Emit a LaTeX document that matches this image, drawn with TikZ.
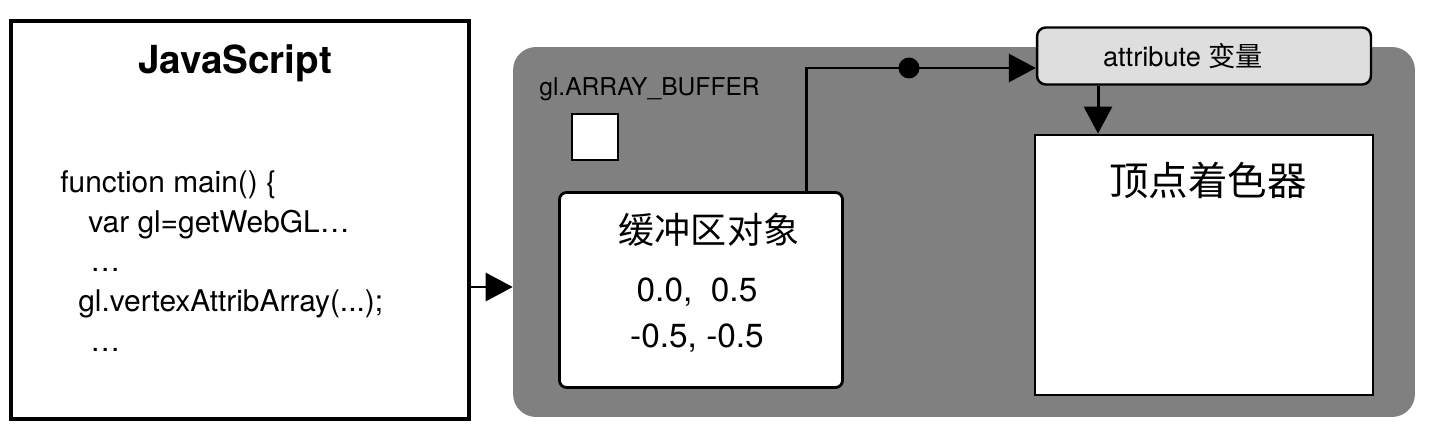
\documentclass[tikz,border=0pt]{standalone}
\usepackage{fontspec}
\setmainfont{TeX Gyre Heros}
\newfontfamily\cjk{Noto Sans CJK SC}
\usepackage{xcolor}
\usepackage{tikz}
\usetikzlibrary{positioning,arrows.meta}
\definecolor{gpugray}{RGB}{128,128,128}
\definecolor{attrgray}{RGB}{222,222,222}

\begin{document}
\begin{tikzpicture}[x=0.02cm,y=-0.02cm,
    jsbox/.style={rectangle,draw=black,fill=white,line width=2pt,minimum width=9.16cm,minimum height=7.96cm},
    gpubox/.style={rectangle,rounded corners=13pt,fill=gpugray,minimum width=18.04cm,minimum height=7.4cm},
    bufbox/.style={rectangle,rounded corners=4pt,draw=black,fill=white,line width=1.6pt,minimum width=5.66cm,minimum height=3.9cm},
    attrbox/.style={rectangle,rounded corners=5pt,draw=black,fill=attrgray,line width=1.4pt,minimum width=6.68cm,minimum height=1.14cm},
    shaderbox/.style={rectangle,draw=black,fill=white,line width=1.6pt,minimum width=6.76cm,minimum height=5.2cm},
    arr/.style={-{Triangle[length=5.4mm,width=5.6mm]},line width=1.7pt}
]
    \useasboundingbox (0,0) rectangle (1430,432);
    % JavaScript side
    \node[jsbox] (js) at (240,220) {};
    \node[font=\bfseries\fontsize{22}{26}\selectfont] (jstitle) at (235,63) {JavaScript};
    \node[anchor=north west,align=left,inner sep=0pt,font=\fontsize{17}{22.7}\selectfont] (code) at (60,170)
        {function main() \{\\
         \hspace*{0.56cm}var gl=getWebGL…\\
         \hspace*{0.6cm}…\\
         \hspace*{0.36cm}gl.vertexAttribArray(...);\\
         \hspace*{0.6cm}…};
    
    % WebGL system
    \node[gpubox] (gpu) at (964,232) {};
    \node[anchor=west,inner sep=0pt,font=\fontsize{14}{16}\selectfont] (target) at (539,89) {gl.ARRAY\_BUFFER};
    \node[rectangle,draw=black,fill=white,line width=1.4pt,minimum size=0.92cm] (slot) at (595,137) {};
    \node[bufbox] (buf) at (701,290) {};
    \node[font=\cjk\fontsize{20.5}{24}\selectfont] (buftitle) at (709,230) {缓冲区对象};
    \node[align=center,font=\fontsize{19}{26}\selectfont] (bufdata) at (697,315) {0.0,\ \ 0.5\\-0.5, -0.5};
    \node[attrbox] (attr) at (1204,56) {};
    \node[font=\fontsize{15.5}{18}\selectfont] (attrtext) at (1183,56) {attribute {\cjk 变量}};
    \node[shaderbox] (vs) at (1204,265) {};
    \node[font=\cjk\fontsize{22.5}{26}\selectfont] (vstitle) at (1208,180) {顶点着色器};
    
    \coordinate (tap) at (806,68);
    \coordinate (drop) at (1098,100);
    \node[circle,fill=black,inner sep=0pt,minimum size=0.42cm] (dot) at (909,68) {};
    
    \draw[arr] (js.east |- 0,287) -- (gpu.west |- 0,287);
    \draw[arr] (buf.north -| tap) -- (tap) -- (dot.center) -- (attr.west |- tap);
    \draw[arr] (attr.south -| drop) -- (vs.north -| drop);
\end{tikzpicture}
\end{document}
